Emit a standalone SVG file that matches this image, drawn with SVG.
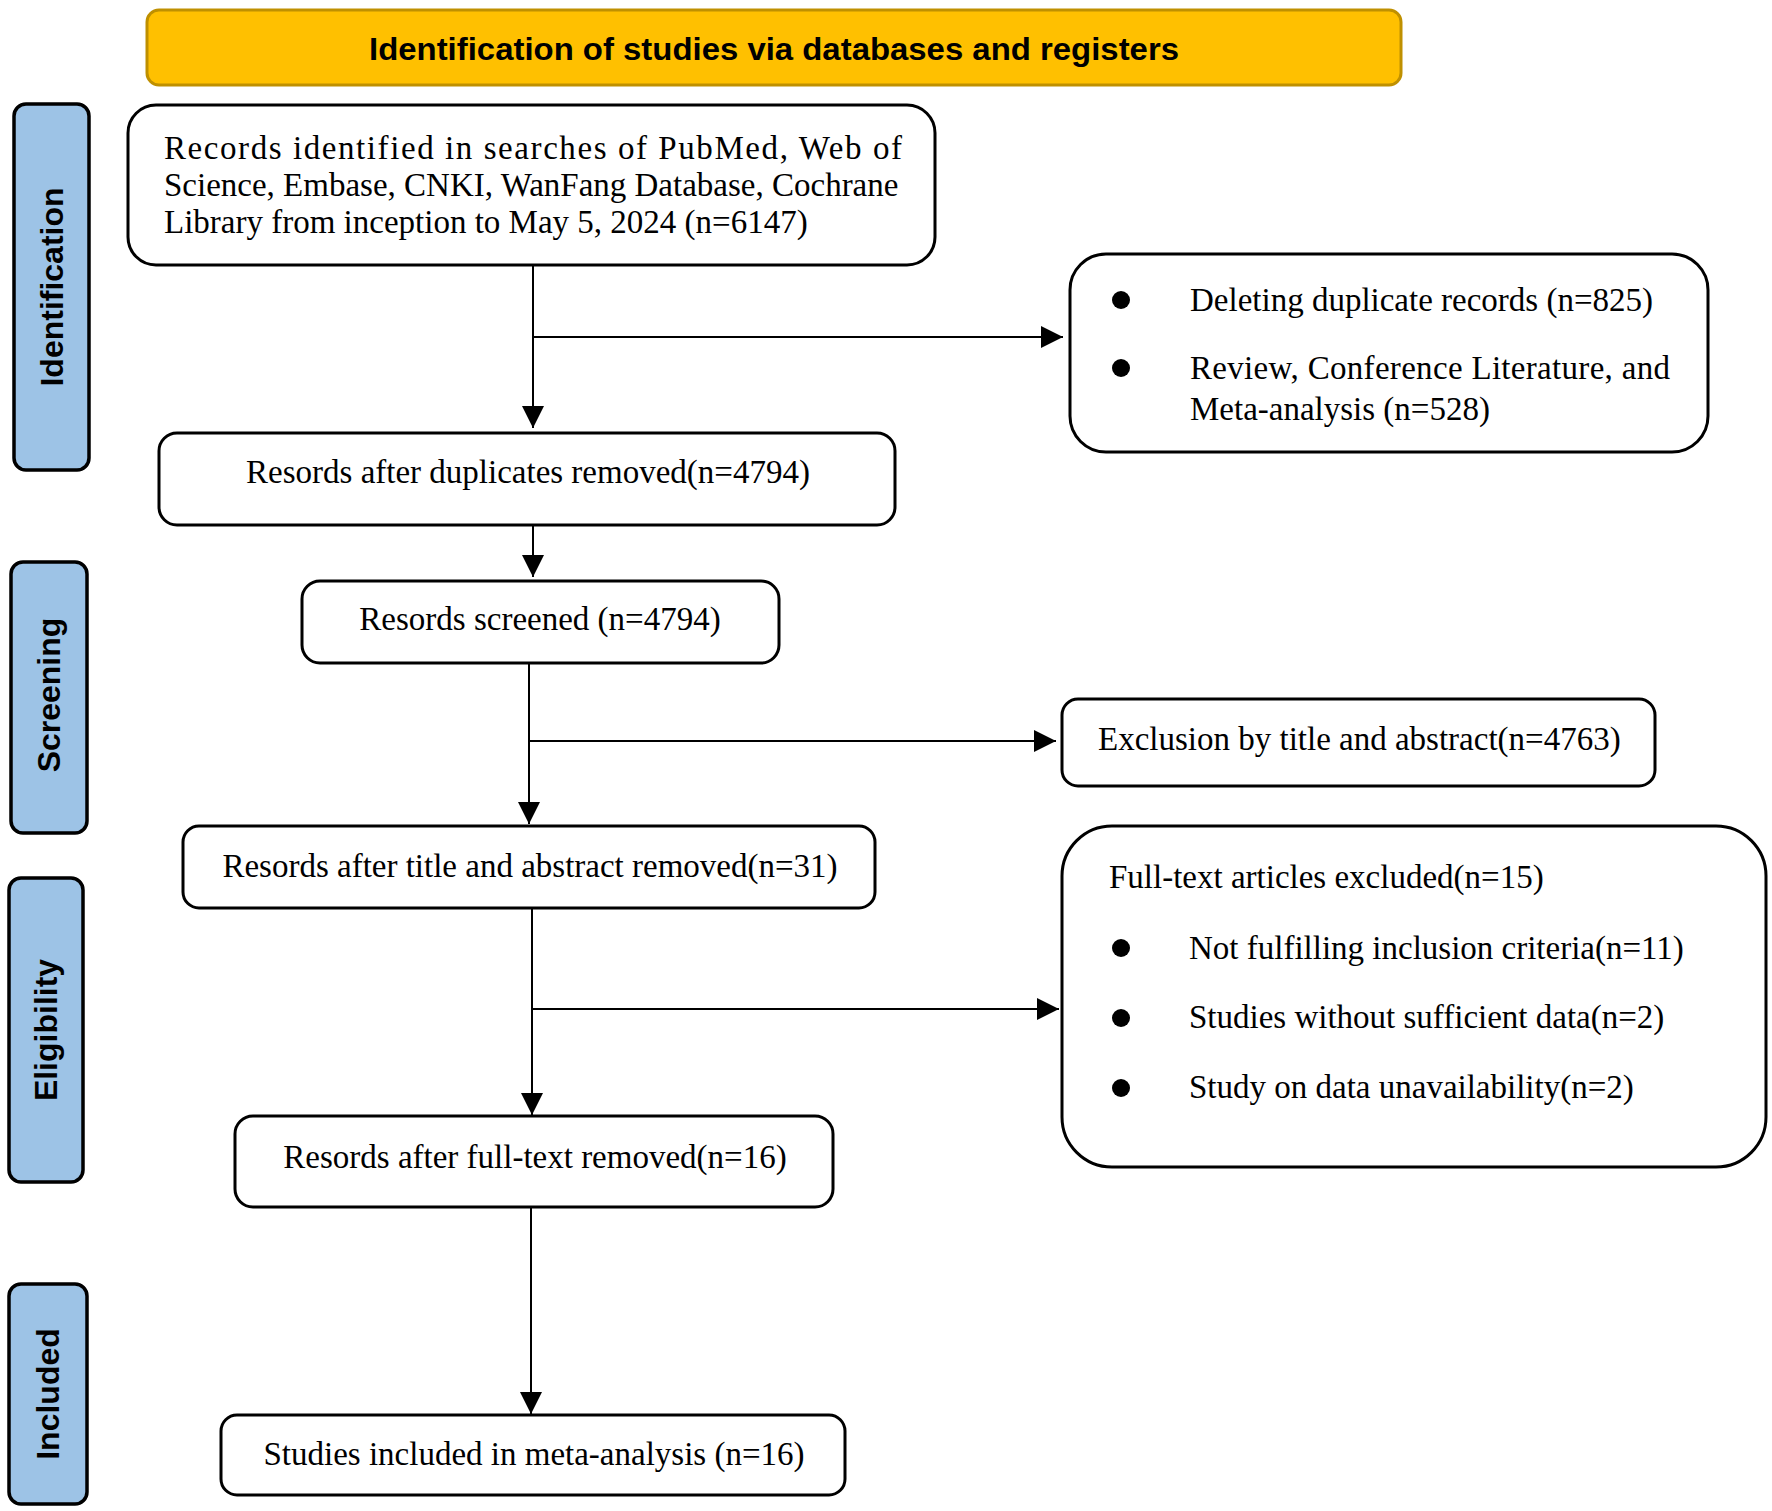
<svg xmlns="http://www.w3.org/2000/svg" width="1772" height="1511" viewBox="0 0 1772 1511">
<defs>
<style>
.box{fill:#fff;stroke:#000;stroke-width:3}
.phase{fill:#9DC3E6;stroke:#000;stroke-width:3.5}
.t{font-family:"Liberation Serif","Times New Roman",serif;font-size:33px;fill:#000}
.c{text-anchor:middle}
.ph{font-family:"Liberation Sans",Arial,sans-serif;font-size:32px;font-weight:bold;fill:#000;text-anchor:middle}
.conn{stroke:#000;stroke-width:2;fill:none}
</style>
<marker id="ah" viewBox="0 0 22 22" markerWidth="22" markerHeight="22" refX="22" refY="11" orient="auto" markerUnits="userSpaceOnUse">
<path d="M0,0 L22,11 L0,22 z" fill="#000"/>
</marker>
</defs>
<rect width="1772" height="1511" fill="#fff"/>

<g id="header">
<rect x="147" y="10" width="1254" height="75" rx="12" fill="#FFC000" stroke="#BF9000" stroke-width="3"/>
<text x="774" y="60" font-family="Liberation Sans, Arial, sans-serif" font-size="32" font-weight="bold" text-anchor="middle" textLength="810" lengthAdjust="spacingAndGlyphs">Identification of studies via databases and registers</text>
</g>

<g id="phase-identification">
<rect class="phase" x="14" y="104" width="75" height="366" rx="12"/>
<text class="ph" transform="translate(63,287) rotate(-90)">Identification</text>
</g>
<g id="phase-screening">
<rect class="phase" x="11" y="562" width="76" height="271" rx="12"/>
<text class="ph" transform="translate(60,695) rotate(-90)">Screening</text>
</g>
<g id="phase-eligibility">
<rect class="phase" x="9" y="878" width="74" height="304" rx="12"/>
<text class="ph" transform="translate(57,1030) rotate(-90)">Eligibility</text>
</g>
<g id="phase-included">
<rect class="phase" x="9" y="1284" width="78" height="220" rx="12"/>
<text class="ph" transform="translate(59,1394) rotate(-90)">Included</text>
</g>

<g id="connectors">
<line class="conn" x1="533" y1="265" x2="533" y2="428" marker-end="url(#ah)"/>
<line class="conn" x1="533" y1="337" x2="1063" y2="337" marker-end="url(#ah)"/>
<line class="conn" x1="533" y1="526" x2="533" y2="577" marker-end="url(#ah)"/>
<line class="conn" x1="529" y1="663" x2="529" y2="824" marker-end="url(#ah)"/>
<line class="conn" x1="529" y1="741" x2="1056" y2="741" marker-end="url(#ah)"/>
<line class="conn" x1="532" y1="908" x2="532" y2="1115" marker-end="url(#ah)"/>
<line class="conn" x1="532" y1="1009" x2="1059" y2="1009" marker-end="url(#ah)"/>
<line class="conn" x1="531" y1="1207" x2="531" y2="1414" marker-end="url(#ah)"/>
</g>

<g id="records-identified">
<rect class="box" x="128" y="105" width="807" height="160" rx="28"/>
<text class="t" x="164" y="159" textLength="738" lengthAdjust="spacing">Records identified in searches of PubMed, Web of</text>
<text class="t" x="164" y="196">Science, Embase, CNKI, WanFang Database, Cochrane</text>
<text class="t" x="164" y="233">Library from inception to May 5, 2024 (n=6147)</text>
</g>

<g id="excluded-duplicates">
<rect class="box" x="1070" y="254" width="638" height="198" rx="36"/>
<circle cx="1121" cy="300" r="9"/>
<text class="t" x="1190" y="311">Deleting duplicate records (n=825)</text>
<circle cx="1121" cy="368" r="9"/>
<text class="t" x="1190" y="379" textLength="480" lengthAdjust="spacing">Review, Conference Literature, and</text>
<text class="t" x="1190" y="420">Meta-analysis (n=528)</text>
</g>

<g id="after-duplicates">
<rect class="box" x="159" y="433" width="736" height="92" rx="18"/>
<text class="t c" x="528" y="483">Resords after duplicates removed(n=4794)</text>
</g>

<g id="screened">
<rect class="box" x="302" y="581" width="477" height="82" rx="18"/>
<text class="t c" x="540" y="630">Resords screened (n=4794)</text>
</g>

<g id="excluded-title-abstract">
<rect class="box" x="1062" y="699" width="593" height="87" rx="16"/>
<text class="t" x="1098" y="750">Exclusion by title and abstract(n=4763)</text>
</g>

<g id="after-title-abstract">
<rect class="box" x="183" y="826" width="692" height="82" rx="16"/>
<text class="t c" x="530" y="877">Resords after title and abstract removed(n=31)</text>
</g>

<g id="excluded-full-text">
<rect class="box" x="1062" y="826" width="704" height="341" rx="50"/>
<text class="t" x="1109" y="888">Full-text articles excluded(n=15)</text>
<circle cx="1121" cy="948" r="9"/>
<text class="t" x="1189" y="959">Not fulfilling inclusion criteria(n=11)</text>
<circle cx="1121" cy="1018" r="9"/>
<text class="t" x="1189" y="1028">Studies without sufficient data(n=2)</text>
<circle cx="1121" cy="1088" r="9"/>
<text class="t" x="1189" y="1098">Study on data unavailability(n=2)</text>
</g>

<g id="after-full-text">
<rect class="box" x="235" y="1116" width="598" height="91" rx="18"/>
<text class="t c" x="535" y="1168">Resords after full-text removed(n=16)</text>
</g>

<g id="included">
<rect class="box" x="221" y="1415" width="624" height="80" rx="16"/>
<text class="t c" x="534" y="1465">Studies included in meta-analysis (n=16)</text>
</g>
</svg>
